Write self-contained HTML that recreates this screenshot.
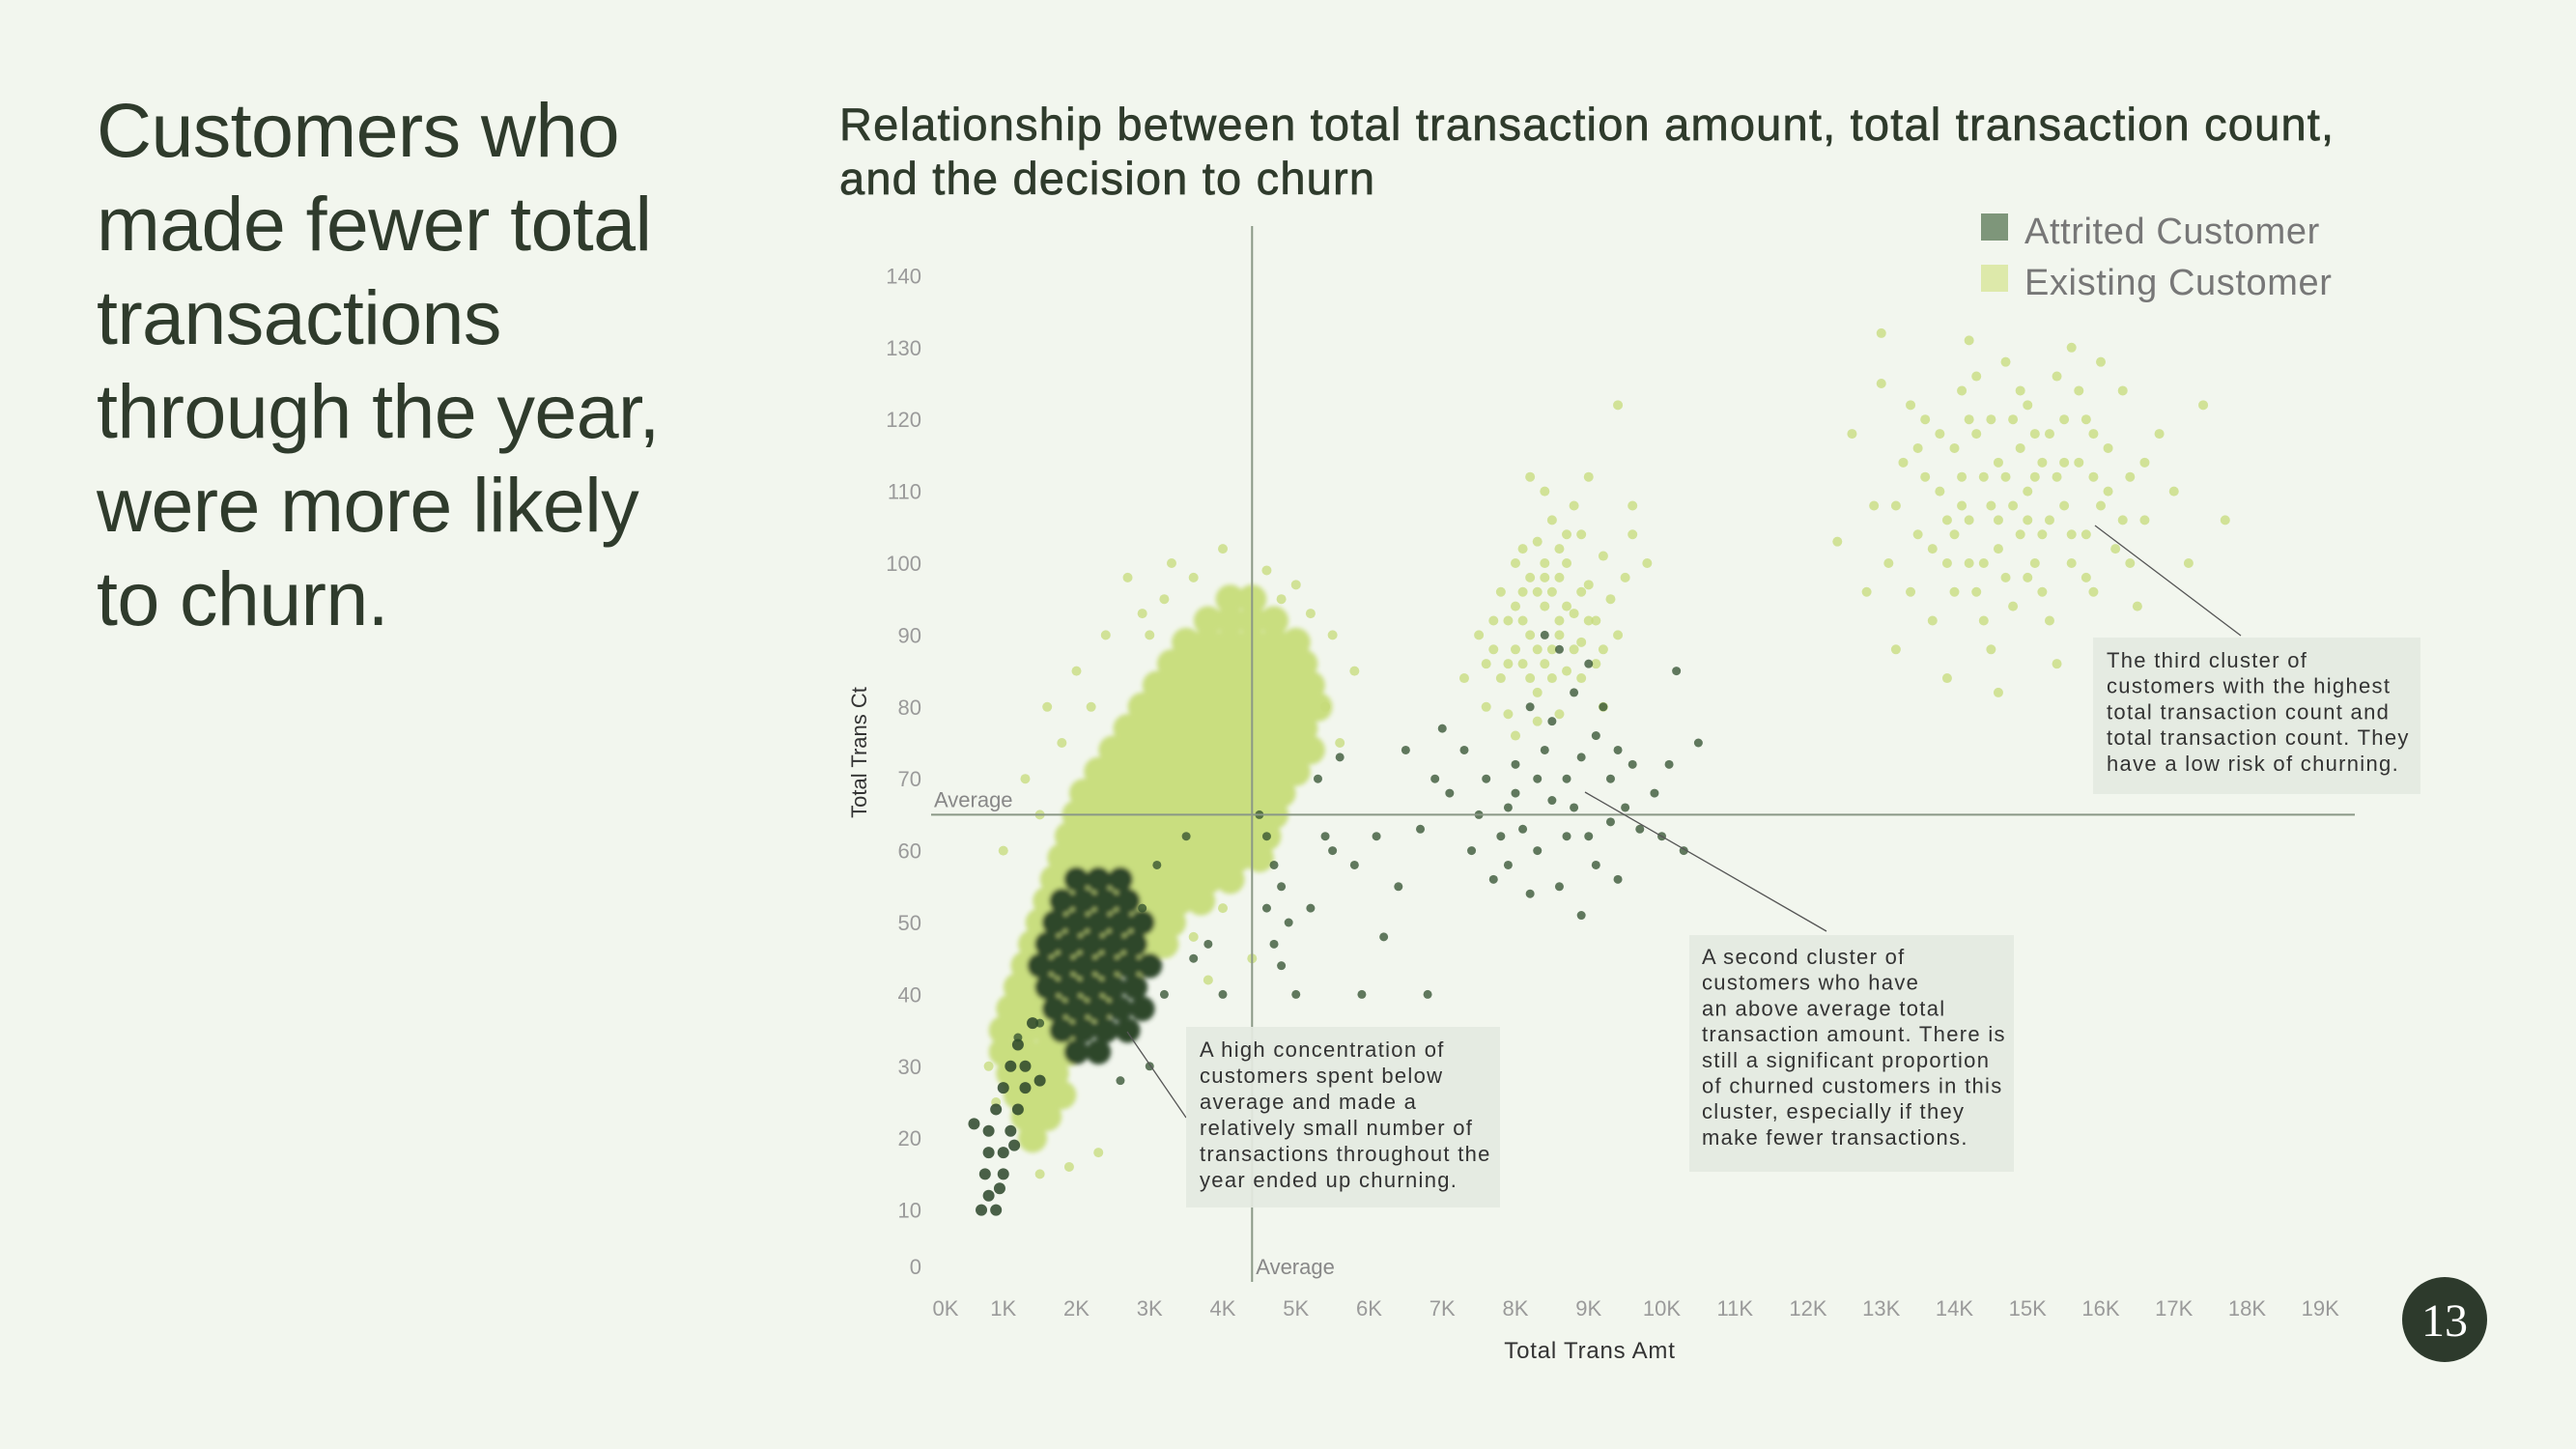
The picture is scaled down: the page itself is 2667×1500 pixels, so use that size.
<!DOCTYPE html>
<html><head><meta charset="utf-8"><style>
html,body{margin:0;padding:0;background:#f2f6ee;}
svg{display:block;font-family:"Liberation Sans",sans-serif;}
</style></head><body>
<svg id="chart" width="2667" height="1500" viewBox="0 0 2667 1500">
<defs><filter id="soft" x="-5%" y="-5%" width="110%" height="110%"><feGaussianBlur stdDeviation="2.5"/></filter></defs>
<rect x="0" y="0" width="2667" height="1500" fill="#f2f6ee"/>
<g font-size="79" fill="#2f3b2c" letter-spacing="-0.6">
<text x="100" y="162">Customers who</text>
<text x="100" y="259">made fewer total</text>
<text x="100" y="356">transactions</text>
<text x="100" y="453">through the year,</text>
<text x="100" y="550">were more likely</text>
<text x="100" y="647">to churn.</text>
</g>
<g font-size="47" fill="#2f3b2c" stroke="#2f3b2c" stroke-width="0.7" letter-spacing="1.2">
<text x="869" y="145">Relationship between total transaction amount, total transaction count,</text>
<text x="869" y="201">and the decision to churn</text>
</g>
<g font-size="38" fill="#777" letter-spacing="0.6">
<rect x="2051" y="221" width="28" height="28" fill="#7e967a"/>
<text x="2096" y="252">Attrited Customer</text>
<rect x="2051" y="274" width="28" height="28" fill="#dde9aa"/>
<text x="2096" y="305">Existing Customer</text>
</g>
<g id="yticks"></g>
<g id="xticks"></g>
<text x="897" y="779" font-size="22" fill="#333" text-anchor="middle" transform="rotate(-90 897 779)">Total Trans Ct</text>
<text x="1646" y="1406" font-size="24" fill="#333" text-anchor="middle" letter-spacing="0.8">Total Trans Amt</text>
<g id="denseMarks" filter="url(#soft)"></g>
<g id="marks"></g>
<g id="refs"></g>
<g font-size="22" fill="#333" letter-spacing="1.3">
<line x1="1228" y1="1157" x2="1167" y2="1068" stroke="#555" stroke-width="1.3"/>
<rect x="1228" y="1063" width="325" height="187" fill="#e4e9e1" opacity="0.92"/>
<text x="1242" y="1094">
<tspan x="1242">A high concentration of</tspan><tspan x="1242" dy="27">customers spent below</tspan><tspan x="1242" dy="27">average and made a</tspan><tspan x="1242" dy="27">relatively small number of</tspan><tspan x="1242" dy="27">transactions throughout the</tspan><tspan x="1242" dy="27">year ended up churning.</tspan></text>
<line x1="1891" y1="964" x2="1641" y2="820" stroke="#555" stroke-width="1.3"/>
<rect x="1749" y="968" width="336" height="245" fill="#e4e9e1" opacity="0.92"/>
<text x="1762" y="998">
<tspan x="1762">A second cluster of</tspan><tspan x="1762" dy="26.7">customers who have</tspan><tspan x="1762" dy="26.7">an above average total</tspan><tspan x="1762" dy="26.7">transaction amount. There is</tspan><tspan x="1762" dy="26.7">still a significant proportion</tspan><tspan x="1762" dy="26.7">of churned customers in this</tspan><tspan x="1762" dy="26.7">cluster, especially if they</tspan><tspan x="1762" dy="26.7">make fewer transactions.</tspan></text>
<line x1="2320" y1="658" x2="2169" y2="544" stroke="#555" stroke-width="1.3"/>
<rect x="2167" y="660" width="339" height="162" fill="#e4e9e1" opacity="0.92"/>
<text x="2181" y="691">
<tspan x="2181">The third cluster of</tspan><tspan x="2181" dy="26.7">customers with the highest</tspan><tspan x="2181" dy="26.7">total transaction count and</tspan><tspan x="2181" dy="26.7">total transaction count. They</tspan><tspan x="2181" dy="26.7">have a low risk of churning.</tspan></text>
</g>
<g>
<circle cx="2531" cy="1366" r="44" fill="#2d3a2c"/>
<text x="2531" y="1383" font-size="48" fill="#fff" text-anchor="middle" font-family="Liberation Serif, serif">13</text>
</g>
</svg>
<script>
const yTicks=[0,10,20,30,40,50,60,70,80,90,100,110,120,130,140];
const xTicks=[0,1,2,3,4,5,6,7,8,9,10,11,12,13,14,15,16,17,18,19];
const avgAmt=4.4;
const avgCt=65;
const existingDense=[
[4.1,95],[4.4,95],
[3.8,92],[4.1,92],[4.4,92],[4.7,92],
[3.5,89],[3.8,89],[4.1,89],[4.4,89],[4.7,89],[5.0,89],
[3.3,86],[3.6,86],[3.9,86],[4.2,86],[4.5,86],[4.8,86],[5.1,86],
[3.1,83],[3.4,83],[3.7,83],[4.0,83],[4.3,83],[4.6,83],[4.9,83],[5.2,83],
[2.9,80],[3.2,80],[3.5,80],[3.8,80],[4.1,80],[4.4,80],[4.7,80],[5.0,80],[5.3,80],
[2.7,77],[3.0,77],[3.3,77],[3.6,77],[3.9,77],[4.2,77],[4.5,77],[4.8,77],[5.1,77],
[2.5,74],[2.8,74],[3.1,74],[3.4,74],[3.7,74],[4.0,74],[4.3,74],[4.6,74],[4.9,74],[5.2,74],
[2.3,71],[2.6,71],[2.9,71],[3.2,71],[3.5,71],[3.8,71],[4.1,71],[4.4,71],[4.7,71],[5.0,71],
[2.1,68],[2.4,68],[2.7,68],[3.0,68],[3.3,68],[3.6,68],[3.9,68],[4.2,68],[4.5,68],[4.8,68],
[2.0,65],[2.3,65],[2.6,65],[2.9,65],[3.2,65],[3.5,65],[3.8,65],[4.1,65],[4.4,65],[4.7,65],
[1.9,62],[2.2,62],[2.5,62],[2.8,62],[3.1,62],[3.4,62],[3.7,62],[4.0,62],[4.3,62],[4.6,62],
[1.8,59],[2.1,59],[2.4,59],[2.7,59],[3.0,59],[3.3,59],[3.6,59],[3.9,59],[4.2,59],[4.5,59],
[1.7,56],[2.0,56],[2.3,56],[2.6,56],[2.9,56],[3.2,56],[3.5,56],[3.8,56],[4.1,56],
[1.6,53],[1.9,53],[2.2,53],[2.5,53],[2.8,53],[3.1,53],[3.4,53],[3.7,53],
[1.5,50],[1.8,50],[2.1,50],[2.4,50],[2.7,50],[3.0,50],[3.3,50],
[1.4,47],[1.7,47],[2.0,47],[2.3,47],[2.6,47],[2.9,47],[3.2,47],
[1.3,44],[1.6,44],[1.9,44],[2.2,44],[2.5,44],[2.8,44],
[1.2,41],[1.5,41],[1.8,41],[2.1,41],[2.4,41],
[1.1,38],[1.4,38],[1.7,38],[2.0,38],[2.3,38],
[1.0,35],[1.3,35],[1.6,35],[1.9,35],
[1.0,32],[1.3,32],[1.6,32],[1.9,32],
[1.1,29],[1.4,29],[1.7,29],
[1.2,26],[1.5,26],[1.8,26],
[1.3,23],[1.6,23],[1.4,20]
];
const existingSparse=[
[3.3,100],[4.0,102],[4.6,99],[5.0,97],[2.9,93],[2.4,90],[2.0,85],[1.6,80],[5.5,90],[5.8,85],[5.4,80],[1.0,60],[1.3,70],[2.7,98],[3.6,98],[5.2,93],[0.9,25],[0.8,30],[1.9,16],[1.5,15],[2.3,18],[3.6,48],[4.0,52],[4.4,45],[3.8,42],[5.6,75],[3.0,90],[2.2,80],[1.8,75],[1.5,65],[3.2,95],[4.8,95],
[7.6,80],[7.8,84],[7.7,88],[7.9,92],[8.1,96],[8.0,100],[8.3,103],[8.5,106],[8.8,108],[8.6,98],[8.4,94],[8.2,90],[8.1,86],[8.3,82],[8.6,79],[8.7,85],[8.9,89],[8.8,93],[9.0,97],[9.2,101],[9.3,95],[9.1,86],[9.4,90],[8.5,88],[8.0,76],[7.5,90],[7.3,84],[8.9,104],[9.5,98],[9.6,108],[8.4,110],[9.0,112],[9.4,122],[8.2,112],[8.7,100],[8.3,78],[7.9,79],[9.2,80],[8.6,92],[8.4,86],[9.6,104],[9.8,100],[8.0,94],[8.5,96],[7.8,96],[8.9,84],[8.2,98],[9.1,92],[8.6,102],[7.7,92],[8.3,88],[8.8,88],
[8.1,92],[8.4,98],[8.7,94],[8.0,88],[8.5,84],[8.2,84],[8.9,96],[7.9,86],[8.6,90],[8.3,96],[9.0,92],[8.7,104],[8.1,102],[8.4,100],[7.6,86],[9.2,88],
[12.6,118],[12.9,108],[13.1,100],[13.0,125],[13.3,114],[13.5,104],[13.4,96],[13.6,120],[13.8,110],[13.7,92],[13.9,100],[14.0,116],[14.1,124],[14.2,106],[14.3,96],[14.4,112],[14.5,88],[14.5,120],[14.6,102],[14.7,128],[14.8,108],[14.9,116],[15.0,98],[15.0,122],[15.1,112],[15.2,104],[15.3,118],[15.3,92],[15.4,126],[15.5,108],[15.6,100],[15.7,114],[15.8,120],[15.9,96],[16.0,108],[16.1,116],[16.2,102],[16.3,124],[16.4,112],[16.5,94],[16.6,106],[16.8,118],[17.0,110],[17.2,100],[17.4,122],[17.7,106],[12.4,103],[12.8,96],[13.2,88],[13.9,84],[14.6,82],[15.4,86],[13.0,132],[14.2,131],[15.6,130],[16.0,128],[14.0,104],[14.4,100],[14.9,104],[15.5,114],[14.3,118],[15.0,110],[14.1,112],[15.8,104],[13.6,112],[16.4,100],[14.8,94],[15.2,96],[14.6,114],[15.3,106],[14.2,120],[15.9,112],[13.8,118],[14.9,124],
[13.2,108],[13.5,116],[13.9,106],[14.2,100],[14.5,108],[14.7,98],[14.8,120],[15.1,118],[15.4,112],[15.6,104],[15.7,124],[16.1,110],[16.3,106],[14.0,96],[14.4,92],[14.7,112],[15.1,100],[15.5,120],[13.7,102],[14.3,126],[15.0,106],[15.9,118],[16.6,114],[13.4,122],[14.6,106],[15.2,114],[14.1,108],[15.8,98]
];
const attritedDense=[
[2.0,56],[2.3,56],[2.6,56],
[1.8,53],[2.1,53],[2.4,53],[2.7,53],
[1.7,50],[2.0,50],[2.3,50],[2.6,50],[2.9,50],
[1.6,47],[1.9,47],[2.2,47],[2.5,47],[2.8,47],
[1.5,44],[1.8,44],[2.1,44],[2.4,44],[2.7,44],[3.0,44],
[1.6,41],[1.9,41],[2.2,41],[2.5,41],[2.8,41],
[1.7,38],[2.0,38],[2.3,38],[2.6,38],[2.9,38],
[1.8,35],[2.1,35],[2.4,35],[2.7,35],
[2.0,32],[2.3,32]
];
const attritedTail=[
[1.3,30],[1.1,30],[1.0,27],[1.3,27],[0.9,24],[1.2,24],[0.8,21],[1.1,21],[0.8,18],[1.0,18],[0.75,15],[1.0,15],[0.8,12],[0.7,10],[0.9,10],[1.2,33],[1.4,36],[0.6,22],[1.5,28],[0.95,13],[1.15,19]
];
const attritedSparse=[
[4.6,62],[4.7,58],[4.8,55],[4.6,52],[4.9,50],[4.7,47],[4.8,44],[5.0,40],[5.2,52],[4.5,65],[5.4,62],[5.3,70],[5.6,73],[5.5,60],[5.8,58],[6.1,62],[6.4,55],[6.2,48],[5.9,40],[6.8,40],[3.5,62],[3.1,58],[3.6,45],[3.2,40],[2.9,52],[3.8,47],[4.0,40],[1.5,36],[1.2,34],[3.0,30],[2.6,28],
[7.0,77],[7.3,74],[7.6,70],[7.9,66],[8.1,63],[8.3,60],[8.5,67],[8.7,70],[8.9,73],[9.1,76],[9.3,70],[9.5,66],[9.7,63],[9.9,68],[10.1,72],[10.3,60],[10.5,75],[10.2,85],[8.8,82],[8.6,88],[8.4,90],[9.0,86],[9.2,80],[8.2,80],[8.0,72],[7.8,62],[7.5,65],[7.1,68],[6.9,70],[6.7,63],[8.6,55],[8.9,51],[9.1,58],[9.4,56],[8.2,54],[7.9,58],[8.7,62],[9.6,72],[8.4,74],[10.0,62],[6.5,74],[7.7,56],[9.3,64],[8.0,68],[8.8,66],[9.0,62],[8.5,78],[9.4,74],[7.4,60],[8.3,70]
];
const NS='http://www.w3.org/2000/svg';
function xScale(k){return 963+k*75.75;}
function yScale(v){return 1327-v*7.44;}
const yg=document.getElementById('yticks');
yTicks.forEach(v=>{
  const t=document.createElementNS(NS,'text');
  t.setAttribute('x',954);t.setAttribute('y',yScale(v)+8-(v===0?16:0));
  t.setAttribute('text-anchor','end');t.setAttribute('font-size','22');t.setAttribute('fill','#9a9a9a');
  t.textContent=v;
  
  
  yg.appendChild(t);
});
const xg=document.getElementById('xticks');
xTicks.forEach(k=>{
  const t=document.createElementNS(NS,'text');
  t.setAttribute('x',k===0?979:xScale(k));t.setAttribute('y',1362);
  t.setAttribute('text-anchor','middle');t.setAttribute('font-size','22');t.setAttribute('fill','#9a9a9a');
  t.textContent=k+'K';
  
  
  xg.appendChild(t);
});
const dg=document.getElementById('denseMarks');
const mg=document.getElementById('marks');
function draw(g,arr,r,color,op,name){
  arr.forEach(p=>{
    const c=document.createElementNS(NS,'circle');
    c.setAttribute('cx',xScale(p[0]));c.setAttribute('cy',yScale(p[1]));
    c.setAttribute('r',r);c.setAttribute('fill',color);c.setAttribute('fill-opacity',op);
    
    
    g.appendChild(c);
  });
}
draw(dg,existingDense,15,'#c9de7f',1,'existing-point');
draw(dg,attritedDense,13,'#2e472b',1,'attrited-point');
draw(mg,existingSparse,5,'#c5db79',0.75,'existing-point');
draw(mg,attritedTail,6,'#2c4529',0.85,'attrited-point');
draw(mg,attritedSparse,4.5,'#2f4d2c',0.75,'attrited-point');
const rg=document.getElementById('refs');
const vl=document.createElementNS(NS,'line');
vl.setAttribute('x1',xScale(avgAmt));vl.setAttribute('x2',xScale(avgAmt));vl.setAttribute('y1',234);vl.setAttribute('y2',1327);
vl.setAttribute('stroke','#8a9886');vl.setAttribute('stroke-width','2');


rg.appendChild(vl);
const hl=document.createElementNS(NS,'line');
hl.setAttribute('x1',964);hl.setAttribute('x2',2438);hl.setAttribute('y1',yScale(avgCt));hl.setAttribute('y2',yScale(avgCt));
hl.setAttribute('stroke','#8a9886');hl.setAttribute('stroke-width','2');


rg.appendChild(hl);
const la=document.createElementNS(NS,'text');
la.setAttribute('x',967);la.setAttribute('y',yScale(avgCt)-8);la.setAttribute('font-size','22');la.setAttribute('fill','#888');
la.textContent='Average';


rg.appendChild(la);
const lb=document.createElementNS(NS,'text');
lb.setAttribute('x',xScale(avgAmt)+4);lb.setAttribute('y',1319);lb.setAttribute('font-size','22');lb.setAttribute('fill','#888');
lb.textContent='Average';


rg.appendChild(lb);
</script>
</body></html>
